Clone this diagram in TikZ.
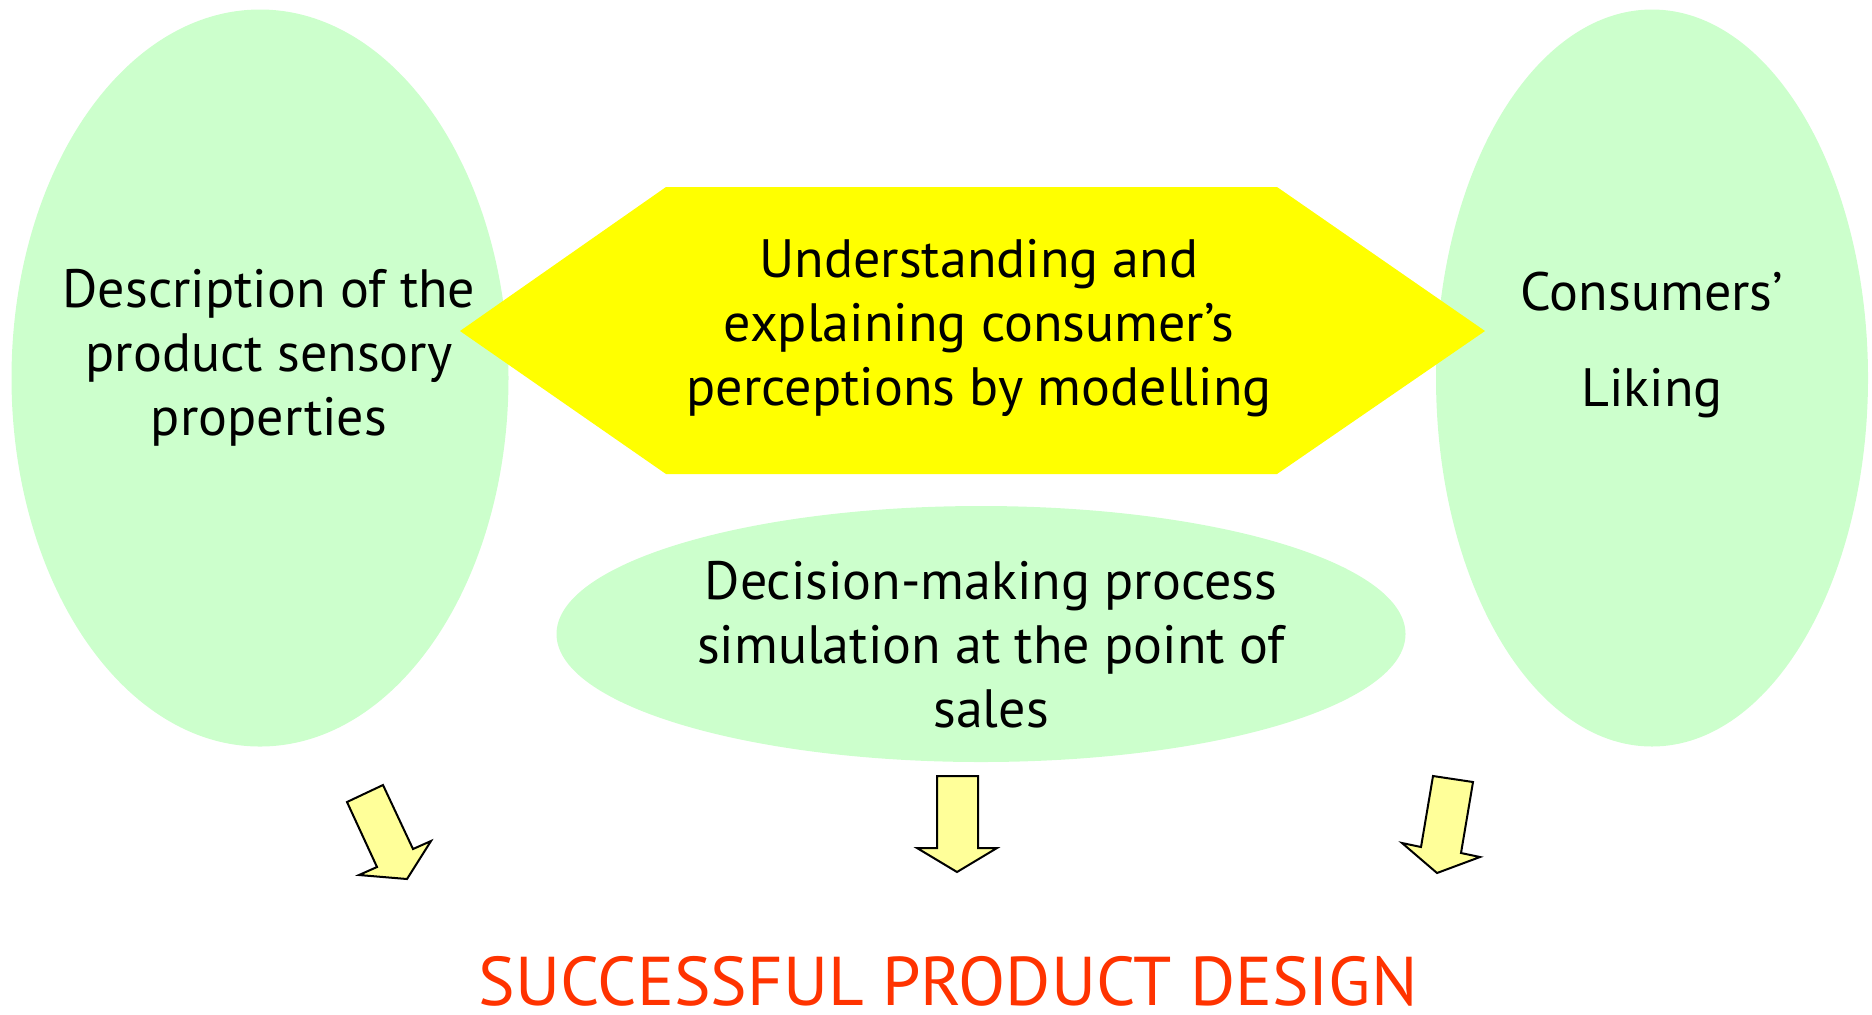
\documentclass[tikz,border=0pt]{standalone}
\usepackage{fontspec}
\setmainfont{PT Sans}
\usepackage{xcolor}
\usetikzlibrary{shapes.geometric}
\definecolor{mint}{HTML}{CCFFCC}
\definecolor{hexyellow}{HTML}{FFFF00}
\definecolor{paleyellow}{HTML}{FFFF99}
\definecolor{titlered}{HTML}{FF3300}
\tikzset{
	blob/.style={ellipse, fill=mint, draw=none, inner sep=0pt},
	txt/.style={align=center, font=\fontsize{27}{32}\selectfont},
	fatarrow/.style={fill=paleyellow, draw=black, line width=1pt, line join=miter}
}

\begin{document}
\begin{tikzpicture}[x=0.5pt, y=-0.5pt]
		\useasboundingbox (0,0) rectangle (1872,1014);
		% the three ellipses
		\node[blob, minimum width=248.5pt, minimum height=368.5pt] (sensory) at (260,378) {};
		\node[blob, minimum width=216pt, minimum height=368.5pt] (liking) at (1652,378) {};
		\node[blob, minimum width=424.5pt, minimum height=128pt] (decision) at (981,634) {};
		% hexagon in the middle
		\fill[hexyellow] (460,331) -- (666,187) -- (1277,187) -- (1485,331) -- (1277,474) -- (666,474) -- cycle;
		\node[txt] (sensorytext) at (269,358) {Description of the\\product sensory\\properties};
		\node[txt] (modeltext) at (979,328) {Understanding and\\explaining consumer’s\\perceptions by modelling};
		\node[txt, font=\fontsize{27}{48}\selectfont] (likingtext) at (1652,345) {Consumers’\\Liking};
		\node[txt] (decisiontext) at (991,645) {Decision-making process\\simulation at the point of\\sales};
		% arrows down
		\draw[fatarrow] (347,802) -- (383,785) -- (413,849) -- (431,841) -- (407,879) -- (359,875) -- (377,867) -- cycle;
		\draw[fatarrow] (937,776) -- (978,776) -- (978,848) -- (997,848) -- (957,872) -- (917,848) -- (937,848) -- cycle;
		\draw[fatarrow] (1433,776) -- (1473,782) -- (1461,853) -- (1480,857) -- (1437,873) -- (1402,843) -- (1421,847) -- cycle;
		\node[font=\fontsize{34.5}{40}\selectfont, text=titlered, anchor=base, inner sep=0pt] (design) at (948,1005) {SUCCESSFUL PRODUCT DESIGN};
	\end{tikzpicture}
\end{document}
